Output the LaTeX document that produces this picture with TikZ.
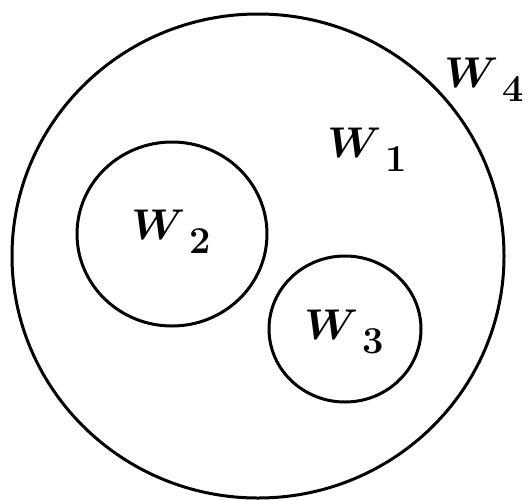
\RequirePackage{fix-cm}
\documentclass[tikz,border=0pt]{standalone}
\newcommand{\wl}[1]{$W$\kern4pt\raisebox{-14pt}{\fontsize{38}{42}\selectfont\bfseries #1}}
\begin{document}
\begin{tikzpicture}[x=1pt,y=-1pt,line width=3pt,
  lbl/.style={inner sep=0pt,font=\fontsize{43}{47}\selectfont\boldmath}]
  \useasboundingbox (0,0) rectangle (525,499);
  \draw (258,256) ellipse (246 and 242);
  \draw (172,234) ellipse (95 and 92);
  \draw (345,329) ellipse (76 and 73);
  \node[lbl] (w1) at (367,150) {\wl{1}};
  \node[lbl] (w2) at (171,232) {\wl{2}};
  \node[lbl] (w3) at (344,332) {\wl{3}};
  \node[lbl] (w4) at (484,80) {\wl{4}};
\end{tikzpicture}
\end{document}
